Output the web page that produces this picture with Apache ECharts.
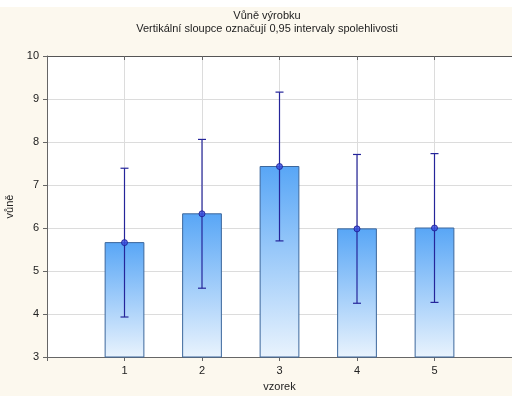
<!DOCTYPE html>
<html><head><meta charset="utf-8">
<script src="https://cdn.jsdelivr.net/npm/echarts@6/dist/echarts.min.js"></script>
<style>html,body{margin:0;padding:0;background:#fcf8ee;}#c{width:512px;height:396px;}</style>
</head><body><div id="c"></div>
<script>
var categories = [1, 2, 3, 4, 5];
var means = [5.66, 6.33, 7.43, 5.98, 6.00];
var lower = [3.93, 4.60, 5.70, 4.25, 4.27];
var upper = [7.39, 8.06, 9.16, 7.71, 7.73];
var yTicks = [3, 4, 5, 6, 7, 8, 9, 10];
var yMin = 3, yMax = 10;

var chart = echarts.init(document.getElementById('c'), null, {renderer: 'canvas'});
var font = 'Liberation Sans, Arial, sans-serif';
var barData = categories.map(function (c, i) { return [c, means[i]]; });
var errData = categories.map(function (c, i) { return [c, lower[i], upper[i]]; });
var meanData = categories.map(function (c, i) { return [c, means[i]]; });

chart.setOption({
  backgroundColor: '#fcf8ee',
  animation: false,
  graphic: [{type: 'rect', left: 0, top: 0, shape: {width: 512, height: 7}, style: {fill: '#ffffff'}, z: -1}],
  title: {
    text: 'Vůně výrobku',
    subtext: 'Vertikální sloupce označují 0,95 intervaly spolehlivosti',
    left: 262, top: 5, textAlign: 'center', itemGap: 2,
    textStyle: {fontFamily: font, fontSize: 11, fontWeight: 'normal', color: '#222'},
    subtextStyle: {fontFamily: font, fontSize: 11, color: '#222'}
  },
  grid: {left: 47, right: 0, top: 56, bottom: 39, show: true, backgroundColor: '#ffffff', borderWidth: 0,
    outerBoundsMode: 'none', containLabel: false},
  xAxis: [{
    type: 'value', min: 0, max: 6, interval: 1,
    name: 'vzorek', nameLocation: 'middle', nameGap: 24,
    nameTextStyle: {fontFamily: font, fontSize: 11, color: '#222'},
    axisLine: {show: true, lineStyle: {color: '#666', width: 1}},
    axisTick: {show: true, length: 4, lineStyle: {color: '#666'}},
    axisLabel: {fontFamily: font, fontSize: 11, color: '#222', margin: 8,
      formatter: function (v) { return categories.indexOf(v) >= 0 ? String(v) : ''; }},
    splitLine: {show: true, lineStyle: {color: '#dcdcdc', width: 1}}
  }, {
    type: 'value', min: 0, max: 6, interval: 1, position: 'top',
    axisLine: {show: true, lineStyle: {color: '#555', width: 1}},
    axisTick: {show: true, inside: true, length: 4, lineStyle: {color: '#666'}},
    axisLabel: {show: false}, splitLine: {show: false}
  }],
  yAxis: [{
    type: 'value', min: yMin, max: yMax, interval: 1,
    name: 'vůně', nameLocation: 'middle', nameGap: 28,
    nameTextStyle: {fontFamily: font, fontSize: 11, color: '#222'},
    axisLine: {show: true, lineStyle: {color: '#666', width: 1}},
    axisTick: {show: true, length: 4, lineStyle: {color: '#666'}},
    axisLabel: {fontFamily: font, fontSize: 11, color: '#222', margin: 8,
      formatter: function (v) { return yTicks.indexOf(v) >= 0 ? String(v) : ''; }},
    splitLine: {show: true, lineStyle: {color: '#dcdcdc', width: 1}}
  }, {
    type: 'value', min: yMin, max: yMax, interval: 1, position: 'right',
    axisLine: {show: false},
    axisTick: {show: true, inside: true, length: 4, lineStyle: {color: '#666'}},
    axisLabel: {show: false}, splitLine: {show: false}
  }],
  series: [{
    type: 'custom', data: barData, z: 3,
    renderItem: function (params, api) {
      var x = api.value(0);
      var top = api.coord([x, api.value(1)]);
      var base = api.coord([x, yMin]);
      var w = api.size([0.5, 0])[0];
      return {type: 'rect',
        shape: {x: top[0] - w / 2, y: top[1], width: w, height: base[1] - top[1]},
        style: {
          fill: new echarts.graphic.LinearGradient(0, 0, 0, 1, [
            {offset: 0, color: '#58a6f6'}, {offset: 1, color: '#e9f3fd'}
          ]),
          stroke: '#3c679c', lineWidth: 1
        }};
    }
  }, {
    type: 'custom', data: errData, z: 5,
    renderItem: function (params, api) {
      var x = api.value(0);
      var lo = api.coord([x, api.value(1)]);
      var hi = api.coord([x, api.value(2)]);
      var cw = 4;
      var st = {stroke: '#25259a', lineWidth: 1.2};
      return {type: 'group', children: [
        {type: 'line', shape: {x1: lo[0], y1: lo[1], x2: hi[0], y2: hi[1]}, style: st},
        {type: 'line', shape: {x1: lo[0] - cw, y1: lo[1], x2: lo[0] + cw, y2: lo[1]}, style: st},
        {type: 'line', shape: {x1: hi[0] - cw, y1: hi[1], x2: hi[0] + cw, y2: hi[1]}, style: st}
      ]};
    }
  }, {
    type: 'scatter', data: meanData, z: 6, symbol: 'circle', symbolSize: 6,
    itemStyle: {color: '#3a4ee0', borderColor: '#1a1a90', borderWidth: 1}
  }]
});
</script></body></html>
